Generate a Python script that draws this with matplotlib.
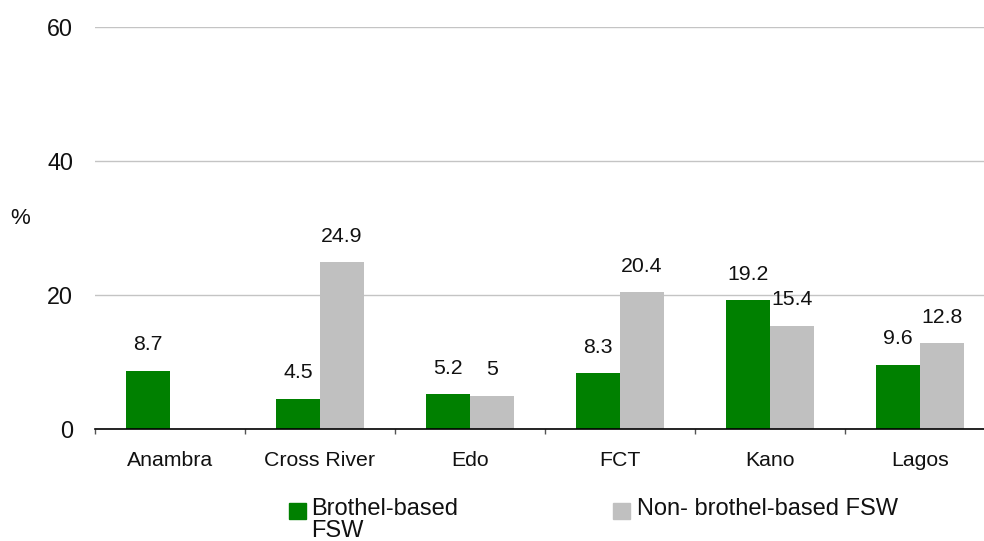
import numpy as np
import matplotlib
matplotlib.use("Agg")
import matplotlib.pyplot as plt
from matplotlib.patches import Rectangle

plt.rcParams['font.family'] = ['Liberation Sans', 'DejaVu Sans']

categories = ["Anambra", "Cross River", "Edo", "FCT", "Kano", "Lagos"]
brothel = [8.7, 4.5, 5.2, 8.3, 19.2, 9.6]
non_brothel = [np.nan, 24.9, 5, 20.4, 15.4, 12.8]
series_names = ["Brothel-based\nFSW", "Non- brothel-based FSW"]
colors = ["#008000", "#C0C0C0"]
yticks = [0, 20, 40, 60]

W, H = 984, 541
PX = 72 / 100  # points per pixel at 100 dpi
fig = plt.figure(figsize=(W / 100, H / 100), dpi=100)
ax = fig.add_axes([95 / W, (H - 429) / H, 900 / W, (429 - 27) / H])

x = np.arange(len(categories))
bw = 0.293
b1 = ax.bar(x - bw / 2, brothel, bw, color=colors[0], zorder=3)
b2 = ax.bar(x + bw / 2, non_brothel, bw, color=colors[1], zorder=3)

def fmt(v):
    return f"{v:g}"

for bars, vals in ((b1, brothel), (b2, non_brothel)):
    for rect, v in zip(bars, vals):
        if np.isnan(v):
            continue
        ax.annotate(fmt(v), (rect.get_x() + rect.get_width() / 2, v),
                    xytext=(0, 20.5 * PX), textcoords="offset points",
                    ha="center", va="baseline", fontsize=15.3, color="#111111")

ax.set_xlim(-0.5, len(categories) - 0.5)
ax.set_ylim(0, 60)
ax.set_yticks(yticks)
ax.set_yticklabels([str(t) for t in yticks])
ax.yaxis.grid(True, color="#C4C4C4", linewidth=1.0, zorder=0)
ax.set_xticks(x)
ax.set_xticklabels(categories)
ax.set_xticks(np.arange(-0.5, len(categories)), minor=True)
ax.tick_params(axis="x", which="major", length=0, pad=22 * PX, labelsize=15.3,
               labelcolor="#111111")
ax.tick_params(axis="x", which="minor", length=5 * PX, width=1, color="#555555")
ax.tick_params(axis="y", length=0, pad=22 * PX, labelsize=16.8, labelcolor="#111111")
for s in ("left", "right", "top"):
    ax.spines[s].set_visible(False)
ax.spines["bottom"].set_color("#000000")
ax.spines["bottom"].set_linewidth(1.2)
ax.spines["bottom"].set_zorder(4)

fig.text(20 / W, 1 - 219 / H, "%", fontsize=16, ha="center", va="center",
         color="#111111")

# legend drawn manually
leg_items = [(289, 311), (613, 637)]
for (sx, tx), name, c in zip(leg_items, series_names, colors):
    fig.patches.append(Rectangle((sx / W, 1 - 519 / H), 17 / W, 16 / H,
                                 transform=fig.transFigure, color=c))
    fig.text(tx / W, 1 - 498 / H, name, fontsize=17, ha="left", va="top",
             linespacing=1.0, color="#111111")

fig.savefig("out.png", dpi=100)
